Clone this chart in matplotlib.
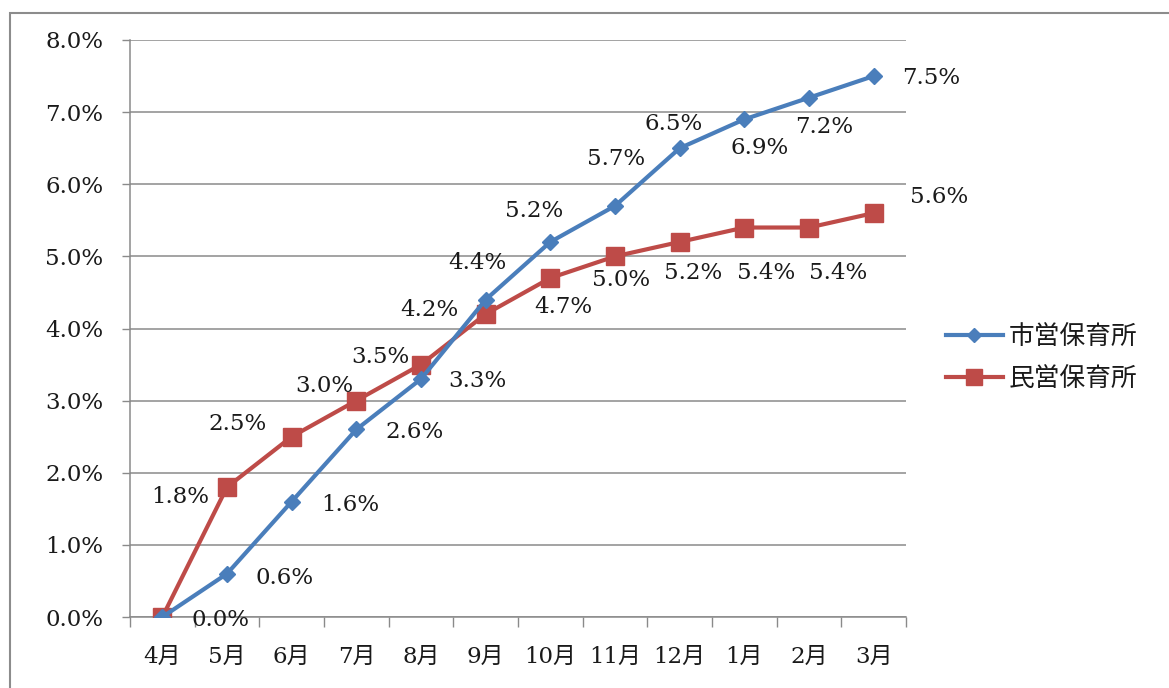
import matplotlib
matplotlib.use("Agg")
import matplotlib.pyplot as plt
from matplotlib.patches import Rectangle

# Monthly cumulative rates (%) for two kinds of nursery schools
months = ["4月", "5月", "6月", "7月", "8月", "9月", "10月", "11月", "12月", "1月", "2月", "3月"]
city_label = "市営保育所"
private_label = "民営保育所"
city_values = [0.0, 0.6, 1.6, 2.6, 3.3, 4.4, 5.2, 5.7, 6.5, 6.9, 7.2, 7.5]
private_values = [0.0, 1.8, 2.5, 3.0, 3.5, 4.2, 4.7, 5.0, 5.2, 5.4, 5.4, 5.6]
y_ticks = [0, 1, 2, 3, 4, 5, 6, 7, 8]

# label offsets in pixels (dx, dy), dy positive upward
city_offsets = [(58, -3), (58, -4), (59, -3), (58, -3), (56, -2), (-8, 37),
                (-16, 31), (1, 47), (-6, 24), (15, -29), (15, -29), (58, -2)]
private_offsets = [None, (-47, -10), (-54, 13), (-32, 15), (-41, 8), (-56, 4),
                   (13, -29), (6, -24), (13, -31), (22, -45), (29, -45), (65, 16)]

BLUE = "#4a7ebb"
RED = "#be4b48"
GRID = "#8a8a8a"
TEXT = "#1a1a1a"
FONT = ["DejaVu Serif", "Noto Sans CJK JP"]
FS = 16.5

W, H = 1169, 688
fig = plt.figure(figsize=(W / 100, H / 100), dpi=100)
fig.patch.set_facecolor("white")

# outer frame
fig.add_artist(Rectangle((10 / W, -0.1), 1.2, (H - 13) / H + 0.1,
                         transform=fig.transFigure, fill=False,
                         edgecolor="#8c8c8c", lw=1.5))

left, right, top, bottom = 130, 906, 40, 617
ax = fig.add_axes([left / W, (H - bottom) / H, (right - left) / W, (bottom - top) / H])

x = list(range(len(months)))
ax.plot(x, city_values, color=BLUE, lw=3.0, marker="D", ms=8.5,
        markerfacecolor=BLUE, markeredgecolor=BLUE, label=city_label, zorder=4)
ax.plot(x, private_values, color=RED, lw=3.0, marker="s", ms=13,
        markerfacecolor=RED, markeredgecolor=RED, label=private_label, zorder=3)

ax.set_xlim(-0.5, len(months) - 0.5)
ax.set_ylim(0, 8)

ax.set_yticks(y_ticks)
ax.set_yticklabels([f"{v:.1f}%" for v in y_ticks], family=FONT, fontsize=FS, color=TEXT)
ax.tick_params(axis="y", direction="out", length=6, width=1, color=GRID, pad=13)
ax.yaxis.grid(True, color=GRID, lw=1.1)
ax.set_axisbelow(True)

ax.set_xticks(x)
ax.set_xticklabels(months, family=FONT, fontsize=FS, color=TEXT)
ax.tick_params(axis="x", which="major", length=0, pad=21)
ax.set_xticks([i - 0.5 for i in range(len(months) + 1)], minor=True)
ax.tick_params(axis="x", which="minor", direction="out", length=7, width=1, color=GRID)

for side in ["top", "right"]:
    ax.spines[side].set_visible(False)
for side in ["left", "bottom"]:
    ax.spines[side].set_color(GRID)
    ax.spines[side].set_linewidth(1.1)

for xi, v, off in zip(x, city_values, city_offsets):
    if off is None:
        continue
    ax.annotate(f"{v:.1f}%", (xi, v), xytext=off, textcoords="offset pixels",
                ha="center", va="center", family=FONT, fontsize=FS,
                color=TEXT, zorder=5)
for xi, v, off in zip(x, private_values, private_offsets):
    if off is None:
        continue
    ax.annotate(f"{v:.1f}%", (xi, v), xytext=off, textcoords="offset pixels",
                ha="center", va="center", family=FONT, fontsize=FS,
                color=TEXT, zorder=5)

leg = fig.legend(loc="center left", bbox_to_anchor=(946 / W, 1 - 358 / H),
                 frameon=False, prop={"family": ["Noto Sans CJK JP"], "size": 18.5},
                 handlelength=2.2, handletextpad=0.25, labelspacing=0.62,
                 borderpad=0, borderaxespad=0, markerscale=0.85)
for t in leg.get_texts():
    t.set_color(TEXT)

fig.savefig("out.png", dpi=100, facecolor="white")
